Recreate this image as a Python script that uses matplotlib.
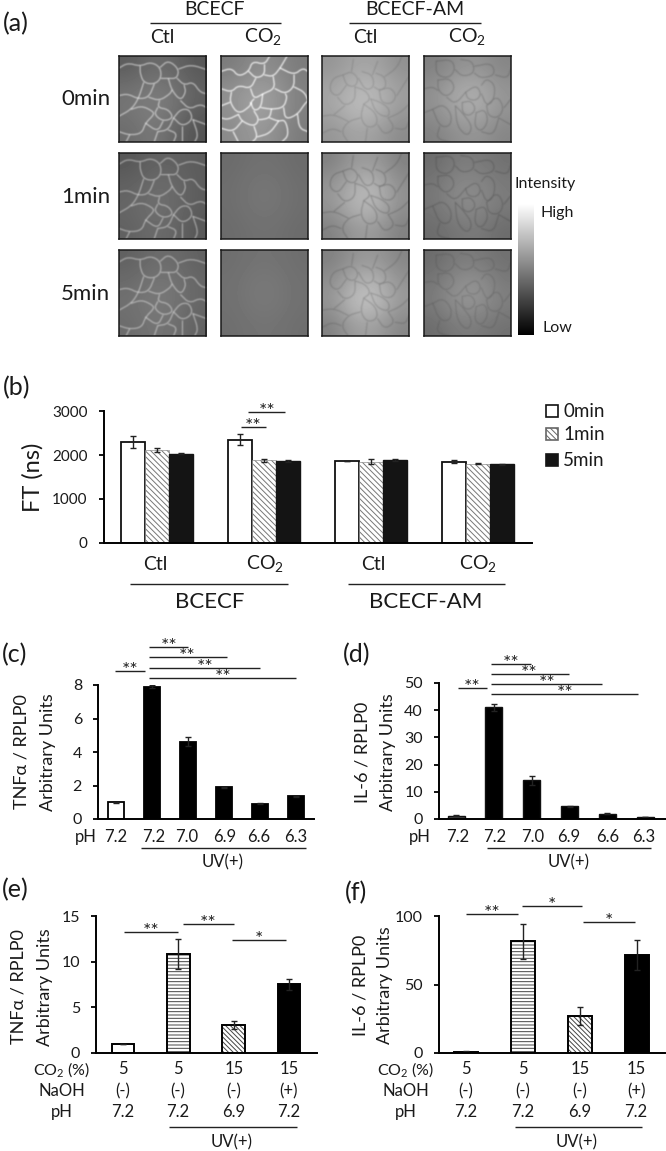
import numpy as np
import matplotlib
matplotlib.use('Agg')
import matplotlib.pyplot as plt
from matplotlib.figure import Figure
from matplotlib.backends.backend_agg import FigureCanvasAgg

plt.rcParams['font.family'] = ['Lato', 'DejaVu Sans']
plt.rcParams['mathtext.fontset'] = 'custom'
plt.rcParams['mathtext.rm'] = 'Lato'
plt.rcParams['hatch.linewidth'] = 0.7

W, H = 666, 1151

# panel b
b_groups = ['Ctl', 'CO2', 'Ctl', 'CO2']
b_0min = [2300, 2350, 1860, 1850]
b_1min = [2110, 1880, 1850, 1800]
b_5min = [2030, 1860, 1890, 1790]
b_0min_err = [130, 130, 5, 30]
b_1min_err = [40, 40, 50, 10]
b_5min_err = [5, 20, 30, 15]

# panels c, d
ph_uv = ['7.2', '7.2', '7.0', '6.9', '6.6', '6.3']
c_vals = [1.0, 7.9, 4.6, 1.9, 0.9, 1.35]
c_err = [0.03, 0.1, 0.27, 0.02, 0.03, 0.02]
d_vals = [1.2, 41, 14.2, 4.6, 2.0, 0.7]
d_err = [0.1, 1.3, 1.6, 0.1, 0.1, 0.1]

# panels e, f
co2_pct = ['5', '5', '15', '15']
naoh = ['(-)', '(-)', '(-)', '(+)']
ph_naoh = ['7.2', '7.2', '6.9', '7.2']
e_vals = [1.0, 10.8, 3.05, 7.55]
e_err = [0.02, 1.65, 0.4, 0.6]
f_vals = [1.0, 81.5, 27, 71.5]
f_err = [0.1, 13, 6.5, 11]

# panel a, grey levels read on a coarse grid (0-1), row by row
g_ctl0 = [[.36, .42, .40, .34], [.44, .48, .46, .38], [.46, .50, .46, .36], [.42, .48, .40, .32]]
g_co20 = [[.48, .54, .54, .48], [.56, .62, .60, .50], [.56, .64, .60, .50], [.54, .60, .56, .48]]
g_ctl1 = [[.34, .38, .38, .36], [.38, .42, .42, .36], [.40, .44, .42, .36], [.38, .42, .40, .34]]
g_co21 = [[.42, .44, .44, .42], [.43, .46, .46, .43], [.43, .46, .46, .43], [.42, .44, .44, .42]]
g_ctl5 = [[.38, .42, .42, .38], [.42, .46, .46, .40], [.44, .48, .46, .40], [.42, .46, .44, .38]]
g_co25 = [[.43, .45, .45, .43], [.44, .47, .47, .44], [.44, .47, .47, .44], [.43, .45, .45, .43]]
g_am_ctl0 = [[.58, .64, .64, .56], [.64, .72, .72, .62], [.64, .74, .72, .60], [.58, .64, .62, .54]]
g_am_co20 = [[.50, .56, .58, .52], [.56, .66, .68, .58], [.56, .66, .68, .58], [.50, .56, .58, .52]]
g_am_ctl1 = [[.50, .60, .60, .50], [.58, .70, .72, .56], [.58, .72, .72, .56], [.50, .60, .60, .50]]
g_am_co21 = [[.42, .48, .48, .44], [.46, .54, .54, .48], [.46, .54, .54, .48], [.42, .46, .48, .42]]
g_am_ctl5 = [[.50, .58, .60, .52], [.56, .70, .72, .58], [.58, .76, .76, .60], [.50, .62, .62, .52]]
g_am_co25 = [[.42, .48, .48, .44], [.46, .56, .58, .48], [.48, .58, .58, .50], [.42, .48, .48, .44]]

net_ctl = [
    [(0, 14), (10, 8), (24, 12), (36, 7), (47, 13), (48, 26), (40, 33), (28, 31), (24, 20), (24, 12)],
    [(47, 13), (56, 5), (68, 15), (66, 26), (56, 26), (48, 26)],
    [(68, 15), (82, 10), (100, 16)],
    [(66, 26), (74, 34), (84, 30), (92, 42), (100, 44)],
    [(56, 26), (60, 40), (70, 52), (76, 42), (74, 34)],
    [(40, 33), (34, 48), (22, 50), (10, 44), (0, 46)],
    [(28, 31), (22, 50), (14, 62), (0, 70)],
    [(34, 48), (46, 52), (58, 44), (60, 40)],
    [(46, 52), (44, 60), (56, 62), (62, 72), (50, 76), (40, 68), (44, 60)],
    [(14, 62), (26, 58), (38, 64), (40, 68), (30, 78), (26, 90), (12, 92), (0, 88)],
    [(70, 52), (80, 62), (92, 56), (100, 60)],
    [(62, 72), (70, 62), (80, 62), (84, 74), (72, 82), (62, 72)],
    [(30, 78), (44, 88), (50, 76)],
    [(44, 88), (40, 100)],
    [(72, 82), (72, 100)],
    [(84, 74), (100, 80)],
    [(84, 74), (90, 92), (86, 100)],
    [(56, 86), (66, 90), (62, 100)],
    [(44, 88), (56, 86), (62, 72)],
    [(12, 92), (8, 100)],
]
net_co2 = [
    [(0, 18), (12, 14), (20, 24), (32, 18), (36, 6), (50, 10), (56, 0)],
    [(32, 18), (40, 26), (50, 22), (50, 10)],
    [(40, 26), (34, 38), (20, 34), (12, 42), (0, 38)],
    [(50, 22), (60, 24), (68, 14), (76, 0)],
    [(68, 14), (84, 22), (94, 14), (100, 18)],
    [(60, 24), (62, 38), (48, 44), (38, 50), (34, 38)],
    [(62, 38), (74, 44), (84, 36), (84, 22)],
    [(84, 36), (96, 42), (100, 52)],
    [(48, 44), (46, 60), (38, 64), (34, 54), (38, 50)],
    [(46, 60), (58, 62), (72, 60), (76, 48), (74, 44)],
    [(12, 42), (10, 54), (20, 68), (34, 58), (34, 54)],
    [(10, 54), (0, 58)],
    [(20, 68), (8, 74), (0, 72)],
    [(38, 64), (44, 74), (38, 82), (24, 76), (20, 68)],
    [(58, 62), (56, 72), (46, 74), (44, 74)],
    [(72, 60), (74, 74), (88, 68), (96, 56), (100, 52)],
    [(56, 72), (66, 76), (74, 74), (78, 92), (70, 100)],
    [(38, 82), (42, 94), (36, 100)],
    [(24, 76), (14, 88), (0, 84)],
    [(42, 94), (56, 90), (66, 76)],
    [(88, 68), (90, 84), (100, 88)],
    [(14, 88), (20, 100)],
]
net_am_ctl = [
    [(24, 22), (34, 18), (42, 26), (38, 36), (28, 34), (24, 22)],
    [(46, 18), (58, 22), (60, 36), (50, 40), (42, 26)],
    [(62, 20), (72, 24), (74, 36), (66, 40), (60, 36)],
    [(66, 40), (78, 36), (86, 46), (80, 56), (68, 54), (66, 40)],
    [(38, 36), (50, 40), (56, 50), (48, 56)],
    [(56, 50), (68, 54), (78, 62), (76, 72), (62, 66), (56, 50)],
    [(48, 56), (62, 66), (64, 80), (52, 84), (44, 72), (48, 56)],
    [(76, 72), (90, 66), (100, 56)],
    [(76, 72), (84, 84), (72, 92), (64, 80)],
    [(44, 72), (30, 76), (22, 88), (30, 100)],
    [(86, 46), (96, 30), (100, 24)],
    [(0, 70), (14, 68), (30, 76)],
    [(24, 22), (12, 26), (8, 40), (18, 48), (28, 34)],
    [(18, 48), (26, 58), (38, 52), (38, 36)],
    [(26, 58), (14, 68)],
    [(34, 18), (36, 4)],
    [(58, 22), (64, 6)],
    [(72, 24), (86, 14), (92, 0)],
    [(84, 84), (96, 86), (100, 76)],
    [(52, 84), (50, 100)],
    [(0, 90), (12, 84), (22, 88)],
]
net_am_co2 = [
    [(14, 6), (32, 4), (36, 16), (28, 26), (14, 22), (14, 6)],
    [(42, 4), (56, 6), (58, 20), (44, 24), (36, 16)],
    [(58, 12), (78, 8), (82, 22), (66, 26), (58, 20)],
    [(16, 28), (30, 26), (36, 38), (26, 48), (16, 40), (16, 28)],
    [(48, 42), (60, 34), (66, 44), (60, 52), (50, 50), (48, 42)],
    [(66, 34), (72, 26), (82, 34), (80, 52), (72, 58), (66, 44)],
    [(44, 54), (54, 52), (60, 62), (52, 70), (44, 66), (44, 54)],
    [(72, 58), (84, 46), (92, 60), (86, 72), (74, 70), (72, 58)],
    [(10, 62), (22, 56), (32, 68), (30, 82), (18, 82), (10, 62)],
    [(36, 58), (44, 66), (56, 82), (50, 94), (38, 82), (36, 58)],
    [(60, 66), (70, 62), (74, 76), (66, 88), (58, 82), (60, 66)],
    [(0, 38), (10, 36), (16, 40)],
    [(86, 72), (100, 80)],
    [(92, 60), (100, 50)],
    [(82, 22), (96, 26), (100, 14)],
    [(26, 48), (36, 56), (48, 42)],
    [(18, 82), (14, 96), (30, 100)],
    [(66, 88), (80, 92), (86, 72)],
    [(0, 66), (10, 62)],
]

panel_x = [119, 221, 322, 424]
panel_y = [56, 153, 250]
panels = [
    [(g_ctl0, net_ctl, 1.0, .62), (g_co20, net_co2, 1.0, .95),
     (g_am_ctl0, net_am_ctl, 0.25, .22), (g_am_co20, net_am_co2, 0.25, .30)],
    [(g_ctl1, net_ctl, 1.0, .50), (g_co21, [], 1.0, 0),
     (g_am_ctl1, net_am_ctl, 0.25, .34), (g_am_co21, net_am_co2, 0.2, .30)],
    [(g_ctl5, net_ctl, 1.0, .50), (g_co25, [], 1.0, 0),
     (g_am_ctl5, net_am_ctl, 0.25, .28), (g_am_co25, net_am_co2, 0.2, .22)],
]


def soften(line):
    # corner cutting, cells have rounded outlines
    pts = np.array(line, dtype=float)
    for i in range(2):
        q = pts[:-1] * .75 + pts[1:] * .25
        r = pts[:-1] * .25 + pts[1:] * .75
        mid = np.empty((len(q) * 2, 2))
        mid[0::2] = q
        mid[1::2] = r
        pts = np.vstack([pts[0], mid, pts[-1]])
    return pts


def membrane(net):
    # draws the outlines off screen and blurs them like an out of focus micrograph
    f = Figure(figsize=(1.74, 1.72), dpi=100)
    canvas = FigureCanvasAgg(f)
    a = f.add_axes([0, 0, 1, 1])
    a.set_xlim(0, 100)
    a.set_ylim(100, 0)
    a.axis('off')
    for line in net:
        p = soften(line)
        a.plot(p[:, 0], p[:, 1], color='black', lw=1.0)
    canvas.draw()
    m = 1 - np.asarray(canvas.buffer_rgba())[:, :, 0] / 255.0
    k = np.exp(-np.arange(-6, 7) ** 2 / (2 * 1.3 ** 2))
    k = k / k.sum()
    m = np.apply_along_axis(lambda v: np.convolve(v, k, mode='same'), 0, m)
    m = np.apply_along_axis(lambda v: np.convolve(v, k, mode='same'), 1, m)
    return m / max(m.max(), 1e-6)


fig = plt.figure(figsize=(W / 100, H / 100), dpi=100)


def box(x0, y0, x1, y1):
    return fig.add_axes([x0 / W, 1 - y1 / H, (x1 - x0) / W, (y1 - y0) / H])


# overlay in pixel coordinates for labels and brackets
ov = fig.add_axes([0, 0, 1, 1], zorder=5)
ov.set_xlim(0, W)
ov.set_ylim(H, 0)
ov.axis('off')


def txt(x, y, s, size=12, ha='center', **kw):
    ov.text(x, y, s, fontsize=size, ha=ha, va='center', color='#1a1a1a', **kw)


def rule(x0, x1, y, lw=1.0):
    ov.plot([x0, x1], [y, y], color='#222222', lw=lw, solid_capstyle='butt')


def stars(x0, x1, y, n=2, xs=None):
    rule(x0, x1, y)
    ov.text((x0 + x1) / 2 if xs is None else xs, y - 1, '*' * n, fontsize=14, ha='center',
            va='center', color='#222222')


def style(ax, ticks, size=11.5):
    ax.spines['top'].set_visible(False)
    ax.spines['right'].set_visible(False)
    ax.spines['left'].set_linewidth(1.4)
    ax.spines['bottom'].set_linewidth(1.4)
    ax.set_xticks([])
    ax.set_yticks(ticks)
    ax.tick_params(axis='y', length=3.5, width=1.3, labelsize=size, pad=8, labelcolor='#1a1a1a')
    ax.patch.set_alpha(0)


# (a) micrographs
cache = {}
for r, row in enumerate(panels):
    for c, (grey, net, col, alpha) in enumerate(row):
        ax = box(panel_x[c], panel_y[r], panel_x[c] + 87, panel_y[r] + 86)
        ax.imshow(np.array(grey), cmap='gray', vmin=0, vmax=1, interpolation='bicubic',
                  extent=(0, 100, 100, 0), aspect='auto')
        if net:
            if id(net) not in cache:
                cache[id(net)] = membrane(net)
            m = cache[id(net)]
            rgba = np.ones(m.shape + (4,)) * col
            rgba[:, :, 3] = m * alpha
            ax.imshow(rgba, extent=(0, 100, 100, 0), aspect='auto', interpolation='bilinear')
        ax.set_xlim(0, 100)
        ax.set_ylim(100, 0)
        ax.set_xticks([])
        ax.set_yticks([])
        for s in ax.spines.values():
            s.set_linewidth(1.1)
            s.set_color('#1a1a1a')

cb = box(518, 204, 534, 335)
cb.imshow(np.linspace(1, 0, 256).reshape(-1, 1), cmap='gray', vmin=0, vmax=1, aspect='auto')
cb.axis('off')

txt(3, 24, '(a)', 18, ha='left')
txt(215, 9, 'BCECF', 14)
txt(415, 9, 'BCECF-AM', 14)
rule(150, 281, 23)
rule(349, 481, 23)
for x, s in zip([162, 263, 365, 467], ['Ctl', 'CO$_2$', 'Ctl', 'CO$_2$']):
    txt(x, 37, s, 14)
for y, s in zip([99, 197, 294], ['0min', '1min', '5min']):
    txt(110, y, s, 16, ha='right')
txt(545, 184, 'Intensity', 11.5)
txt(557, 213, 'High', 11.5)
txt(557, 328, 'Low', 11.5)

# (b)
ax = box(103.5, 411, 532, 543)
x = np.arange(4)
bw = 0.224
ek = dict(ecolor='#222222', elinewidth=1, capsize=2.5, capthick=1)
ax.bar(x - bw, b_0min, bw, color='white', edgecolor='#111111', lw=1.3, yerr=b_0min_err, error_kw=ek)
ax.bar(x, b_1min, bw, color='white', edgecolor='#777777', lw=0.4, hatch='\\\\\\\\\\\\', yerr=b_1min_err, error_kw=ek)
ax.bar(x + bw, b_5min, bw, color='#141414', edgecolor='#141414', lw=1, yerr=b_5min_err, error_kw=ek)
ax.set_xlim(-0.5, 3.5)
ax.set_ylim(0, 3000)
style(ax, [0, 1000, 2000, 3000], 11)
txt(3, 388, '(b)', 18, ha='left')
ov.text(33, 477, 'FT (ns)', fontsize=17, rotation=90, ha='center', va='center', color='#1a1a1a')
stars(241, 266, 427, xs=253)
stars(248, 285, 412, xs=267)
for y, s, fc, ec, h in zip([411, 434, 460], ['0min', '1min', '5min'],
                           ['white', 'white', '#141414'], ['#111111', '#666666', '#141414'],
                           [None, '\\\\\\\\\\\\', None]):
    ov.add_patch(plt.Rectangle((546, y - 6), 12, 12, fc=fc, ec=ec, lw=1.2, hatch=h))
    txt(563, y, s, 13.5, ha='left')
for x, s in zip([155, 265, 373, 478], ['Ctl', 'CO$_2$', 'Ctl', 'CO$_2$']):
    txt(x, 564, s, 14)
rule(130, 288, 584)
rule(348, 505, 584)
txt(210, 602, 'BCECF', 16)
txt(426, 602, 'BCECF-AM', 16)

# (c)
ax = box(98, 685, 314, 819)
colors = ['white'] + ['black'] * 5
ax.bar(range(6), c_vals, 0.436, color=colors, edgecolor='black', lw=1.3, yerr=c_err, error_kw=ek)
ax.set_xlim(-0.5, 5.5)
ax.set_ylim(0, 8)
style(ax, [0, 2, 4, 6, 8])
txt(2, 655, '(c)', 18, ha='left')
ov.text(22, 752, 'TNFα / RPLP0', fontsize=13, rotation=90, ha='center', va='center', color='#1a1a1a')
ov.text(48, 752, 'Arbitrary Units', fontsize=13, rotation=90, ha='center', va='center', color='#1a1a1a')
txt(86, 837, 'pH')
for x, s in zip([116, 154, 187, 225, 259, 296], ph_uv):
    txt(x, 837, s)
rule(141, 306, 848)
txt(223, 862, 'UV(+)')
stars(115, 145, 671)
stars(149, 188, 647, xs=169)
stars(149, 227, 657, xs=187)
stars(149, 260, 668, xs=205)
stars(149, 296, 678, xs=223)

# (d)
ax = box(439, 683, 666, 819)
colors = ['#444444'] + ['black'] * 5
ax.bar(range(6), d_vals, 0.45, color=colors, edgecolor='#111111', lw=1, yerr=d_err, error_kw=ek)
ax.set_xlim(-0.45, 5.55)
ax.set_ylim(0, 50)
style(ax, [0, 10, 20, 30, 40, 50])
txt(343, 655, '(d)', 18, ha='left')
ov.text(362, 752, 'IL-6 / RPLP0', fontsize=13, rotation=90, ha='center', va='center', color='#1a1a1a')
ov.text(388, 752, 'Arbitrary Units', fontsize=13, rotation=90, ha='center', va='center', color='#1a1a1a')
txt(420, 837, 'pH')
for x, s in zip([458, 495, 533, 569, 608, 644], ph_uv):
    txt(x, 837, s)
rule(487, 651, 848)
txt(569, 862, 'UV(+)')
stars(458, 487, 688)
stars(491, 531, 664, xs=511)
stars(491, 569, 674, xs=529)
stars(491, 602, 684, xs=547)
stars(491, 638, 694, xs=565)


# (e), (f)
def naoh_panel(rect, vals, err, ymax, ticks, bw, xlim):
    ax = box(*rect)
    ax.bar(range(4), vals, bw, color=['white', 'white', 'white', 'black'],
           edgecolor='none', hatch=None)
    ax.bar([1], vals[1], bw, color='white', edgecolor='#444444', lw=0, hatch='-----')
    ax.bar([2], vals[2], bw, color='white', edgecolor='#444444', lw=0, hatch='\\\\\\\\\\\\\\')
    ax.bar(range(4), vals, bw, fill=False, edgecolor='black', lw=1.4, yerr=err, error_kw=ek)
    ax.set_xlim(*xlim)
    ax.set_ylim(0, ymax)
    style(ax, ticks)


naoh_panel((96, 916, 317, 1053), e_vals, e_err, 15, [0, 5, 10, 15], 0.41, (-0.488, 3.508))
naoh_panel((439, 916, 665, 1053), f_vals, f_err, 100, [0, 50, 100], 0.41, (-0.474, 3.49))

txt(2, 890, '(e)', 18, ha='left')
txt(345, 893, '(f)', 18, ha='left')
ov.text(19, 987, 'TNFα / RPLP0', fontsize=13, rotation=90, ha='center', va='center', color='#1a1a1a')
ov.text(45, 987, 'Arbitrary Units', fontsize=13, rotation=90, ha='center', va='center', color='#1a1a1a')
ov.text(360, 985, 'IL-6 / RPLP0', fontsize=13, rotation=90, ha='center', va='center', color='#1a1a1a')
ov.text(385, 985, 'Arbitrary Units', fontsize=13, rotation=90, ha='center', va='center', color='#1a1a1a')

for label_x, xs, line, uv_x in [(62, [123, 178, 234, 289], (169, 297), 232),
                                (406, [466, 523, 580, 636], (515, 642), 577)]:
    txt(label_x, 1070, 'CO$_2$ (%)', 11.5)
    txt(label_x, 1091, 'NaOH')
    txt(label_x, 1112, 'pH')
    for x, a, b, c in zip(xs, co2_pct, naoh, ph_naoh):
        txt(x, 1069, a)
        txt(x, 1091, b)
        txt(x, 1112, c)
    rule(line[0], line[1], 1127)
    txt(uv_x, 1142, 'UV(+)')

stars(124, 178, 932)
stars(183, 234, 924)
stars(232, 286, 940, 1)
stars(466, 518, 914)
stars(522, 582, 906, 1)
stars(583, 635, 922, 1)

fig.savefig('out.png', dpi=100)
